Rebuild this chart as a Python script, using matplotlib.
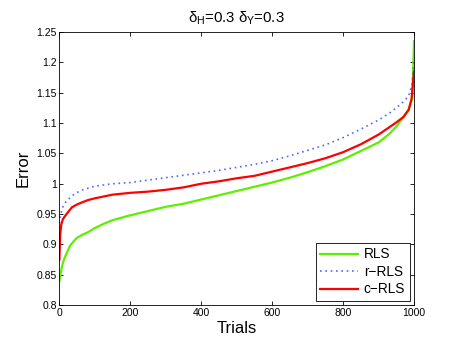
import numpy as np
import matplotlib
matplotlib.use('Agg')
import matplotlib.pyplot as plt

# sorted error curves
rls_x = [0, 3, 6, 10, 15, 20, 30, 40, 50, 65, 80, 100, 125, 150, 200, 250, 300, 350, 400, 450, 500,
         550, 600, 650, 700, 750, 800, 850, 900, 930, 950, 970, 985, 995, 1000]
rls_y = [0.840, 0.850, 0.860, 0.870, 0.878, 0.885, 0.898, 0.905, 0.911, 0.916, 0.920, 0.927, 0.934, 0.940,
         0.948, 0.955, 0.962, 0.967, 0.974, 0.981, 0.988, 0.995, 1.002, 1.010, 1.019, 1.029, 1.040, 1.054,
         1.068, 1.082, 1.094, 1.110, 1.122, 1.140, 1.235]
crls_x = [0, 2, 5, 10, 20, 35, 50, 80, 100, 150, 200, 250, 300, 350, 400, 450, 500, 550, 600, 650, 700,
          750, 800, 850, 900, 930, 950, 970, 985, 993, 1000]
crls_y = [0.875, 0.915, 0.932, 0.942, 0.950, 0.961, 0.966, 0.973, 0.976, 0.982, 0.985, 0.987, 0.990, 0.994,
          1.000, 1.004, 1.009, 1.013, 1.020, 1.027, 1.034, 1.042, 1.052, 1.065, 1.081, 1.093, 1.101, 1.110,
          1.122, 1.140, 1.185]
rrls_x = [0, 3, 6, 10, 20, 40, 60, 100, 150, 200, 250, 300, 350, 400, 450, 500, 550, 600, 650, 700, 750,
          800, 850, 900, 930, 950, 970, 985, 995, 1000]
rrls_y = [0.935, 0.948, 0.955, 0.962, 0.972, 0.982, 0.989, 0.996, 1.000, 1.002, 1.006, 1.010, 1.014, 1.018,
          1.022, 1.027, 1.032, 1.038, 1.046, 1.055, 1.064, 1.076, 1.090, 1.105, 1.116, 1.125, 1.135, 1.145,
          1.165, 1.205]

plt.rcParams['font.family'] = ['Liberation Sans', 'DejaVu Sans']
plt.rcParams['mathtext.fontset'] = 'custom'
plt.rcParams['mathtext.rm'] = 'Liberation Sans'
plt.rcParams['mathtext.it'] = 'Liberation Sans'

fig = plt.figure(figsize=(4.57, 3.44), dpi=100)
ax = fig.add_axes([0.130, 0.113, 0.776, 0.794])

ax.plot(rls_x, rls_y, color='#5cf000', lw=1.6, label='RLS')
ax.plot(rrls_x, rrls_y, color='#4d6bff', lw=1.2, ls=(0, (1, 2.2)), label='r\u2212RLS')
ax.plot(crls_x, crls_y, color='#ff0000', lw=1.6, label='c\u2212RLS')

ax.set_xlim(0, 1000)
ax.set_ylim(0.8, 1.25)
ax.set_xticks([0, 200, 400, 600, 800, 1000])
ax.set_yticks(np.arange(0.8, 1.2501, 0.05))
ax.set_yticklabels(['0.8', '0.85', '0.9', '0.95', '1', '1.05', '1.1', '1.15', '1.2', '1.25'])
ax.tick_params(direction='in', top=True, right=True, labelsize=7.5, length=3, width=0.6, pad=2)
for s in ax.spines.values():
    s.set_linewidth(0.6)

ax.set_xlabel('Trials', fontsize=12, labelpad=2)
ax.set_ylabel('Error', fontsize=12, labelpad=4)
ax.set_title(r'$\delta_H$=0.3 $\delta_Y$=0.3', fontsize=10.8, pad=7)

leg = ax.legend(loc='lower right', fontsize=9.8, fancybox=False, framealpha=1,
                edgecolor='black', borderaxespad=0.3, handlelength=2.8, labelspacing=0.25,
                borderpad=0.35, handletextpad=0.4)
leg.get_frame().set_linewidth(0.6)

fig.savefig('out.png', dpi=100)
